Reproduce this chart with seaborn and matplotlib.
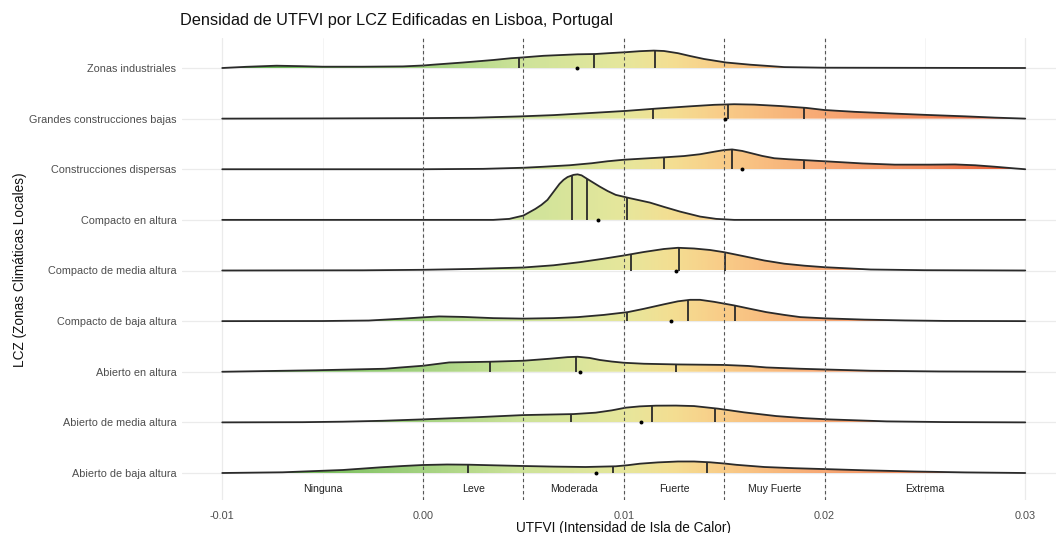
import numpy as np
import matplotlib
matplotlib.use("Agg")
import matplotlib.pyplot as plt
import seaborn as sns
from matplotlib.colors import LinearSegmentedColormap
from matplotlib.patches import Polygon

sns.set_theme(style="whitegrid")
plt.rcParams["font.family"] = ["Liberation Sans", "DejaVu Sans"]

# LCZ categories, bottom to top
lcz = [
    "Abierto de baja altura",
    "Abierto de media altura",
    "Abierto en altura",
    "Compacto de baja altura",
    "Compacto de media altura",
    "Compacto en altura",
    "Construcciones dispersas",
    "Grandes construcciones bajas",
    "Zonas industriales",
]

# Density profiles (UTFVI value, relative density) for each LCZ
ab_baja_x = [-0.010, -0.007, -0.004, -0.0021, -0.001, 0.0, 0.0012, 0.0023, 0.0035, 0.005, 0.0065,
             0.0081, 0.0096, 0.0102, 0.0108, 0.0117, 0.0127, 0.0135, 0.0143, 0.015, 0.0156, 0.017,
             0.0185, 0.0202, 0.022, 0.0245, 0.027, 0.030]
ab_baja_d = [0.0, 0.7, 3.0, 5.7, 7.0, 8.0, 8.5, 8.3, 7.7, 7.0, 6.4, 6.0, 6.7, 7.8, 9.3, 10.6, 11.5,
             11.5, 10.7, 9.5, 8.2, 6.0, 4.8, 3.8, 2.7, 1.5, 0.6, 0.0]

ab_media_x = [-0.010, -0.006, -0.004, -0.002, 0.0, 0.0025, 0.005, 0.0075, 0.0086, 0.0094, 0.0101,
              0.0108, 0.0116, 0.0126, 0.0135, 0.0147, 0.016, 0.0176, 0.019, 0.0202, 0.0231, 0.026, 0.030]
ab_media_d = [0.0, 0.2, 0.7, 1.6, 3.0, 5.0, 7.3, 8.3, 9.7, 12.0, 14.7, 16.0, 16.7, 16.8, 16.3, 13.7,
              10.0, 6.3, 4.2, 3.0, 1.0, 0.3, 0.0]

ab_altura_x = [-0.010, -0.0053, -0.0019, -0.0011, 0.0, 0.0013, 0.0033, 0.005, 0.0063, 0.0072, 0.0077,
               0.0083, 0.0088, 0.0094, 0.010, 0.011, 0.0127, 0.015, 0.0162, 0.0171, 0.0188, 0.020,
               0.0223, 0.0257, 0.030]
ab_altura_d = [0.0, 1.5, 3.0, 4.3, 6.0, 9.3, 10.0, 11.0, 13.0, 14.6, 15.0, 13.8, 11.8, 10.2, 9.0, 8.0,
               7.3, 6.8, 5.8, 4.3, 3.0, 2.3, 1.0, 0.3, 0.0]

co_baja_x = [-0.010, -0.005, -0.0027, -0.001, 0.0, 0.0008, 0.002, 0.0035, 0.005, 0.0065, 0.0077, 0.009,
             0.0102, 0.011, 0.012, 0.0127, 0.0133, 0.0138, 0.0145, 0.0155, 0.0163, 0.0171, 0.018,
             0.0188, 0.020, 0.022, 0.024, 0.026, 0.030]
co_baja_d = [0.0, 0.1, 0.6, 2.5, 3.8, 4.7, 4.2, 3.0, 2.5, 3.0, 4.0, 6.2, 9.0, 12.3, 16.8, 19.8, 21.3,
             21.3, 19.3, 15.7, 12.3, 9.0, 6.2, 4.0, 2.8, 1.5, 0.7, 0.2, 0.0]

co_media_x = [-0.010, -0.003, 0.0, 0.0025, 0.005, 0.0065, 0.0078, 0.009, 0.010, 0.011, 0.012, 0.0127,
              0.0135, 0.0143, 0.015, 0.016, 0.017, 0.018, 0.019, 0.020, 0.0223, 0.025, 0.030]
co_media_d = [0.0, 0.2, 0.7, 1.6, 3.0, 5.2, 8.3, 11.8, 15.0, 18.5, 21.5, 22.7, 22.0, 20.5, 18.3, 14.2,
              10.0, 6.8, 4.8, 3.3, 1.0, 0.3, 0.0]

co_altura_x = [-0.010, 0.0035, 0.0043, 0.005, 0.0056, 0.0059, 0.0062, 0.0065, 0.0068, 0.0070, 0.0072,
               0.0075, 0.0077, 0.0079, 0.0082, 0.0085, 0.0088, 0.0092, 0.0096, 0.0103, 0.0113, 0.0120,
               0.0128, 0.0138, 0.0146, 0.0155, 0.030]
co_altura_d = [0.0, 0.0, 1.0, 4.3, 11.0, 15.0, 20.0, 28.0, 36.0, 40.0, 42.8, 45.0, 45.5, 44.5, 40.7,
               37.0, 33.3, 28.8, 25.0, 21.7, 17.3, 13.0, 8.3, 3.3, 1.0, 0.0, 0.0]

dispersas_x = [-0.010, 0.0, 0.003, 0.005, 0.006, 0.0073, 0.0084, 0.0092, 0.010, 0.011, 0.0121, 0.013,
               0.0138, 0.0145, 0.0150, 0.0154, 0.0159, 0.0164, 0.0169, 0.0175, 0.0182, 0.0191, 0.020,
               0.0219, 0.0235, 0.0252, 0.0265, 0.0275, 0.0285, 0.0295, 0.030]
dispersas_d = [0.0, 0.0, 0.4, 1.5, 2.5, 4.0, 6.0, 8.0, 9.5, 10.7, 12.0, 13.2, 15.0, 17.5, 19.2, 19.8,
               18.3, 15.8, 13.3, 11.0, 10.0, 9.0, 8.0, 5.8, 4.6, 4.6, 4.8, 4.0, 2.5, 0.8, 0.0]

grandes_x = [-0.010, -0.005, 0.0, 0.0025, 0.0048, 0.0065, 0.0085, 0.0101, 0.0116, 0.0133, 0.0145,
             0.0155, 0.0165, 0.0178, 0.0191, 0.020, 0.0215, 0.0235, 0.0251, 0.027, 0.0285, 0.030]
grandes_d = [0.0, 0.2, 0.5, 0.9, 2.2, 3.5, 5.8, 7.7, 10.0, 12.3, 13.8, 14.4, 14.0, 12.6, 10.7, 8.6,
             6.8, 5.0, 3.7, 2.3, 1.0, 0.0]

industriales_x = [-0.010, -0.0088, -0.0073, -0.006, -0.005, -0.003, -0.001, 0.0, 0.0005, 0.002, 0.0035,
                  0.0044, 0.0048, 0.006, 0.0077, 0.0086, 0.0094, 0.0101, 0.0108, 0.0115, 0.012, 0.0127,
                  0.0133, 0.014, 0.0151, 0.0163, 0.018, 0.020, 0.030]
industriales_d = [0.0, 1.2, 2.3, 1.8, 1.3, 1.3, 1.6, 2.5, 3.3, 5.5, 8.0, 9.8, 10.3, 12.2, 13.7, 14.0,
                  15.0, 15.8, 16.8, 17.4, 17.0, 14.8, 12.0, 9.0, 5.5, 3.3, 0.9, 0.3, 0.0]

profiles_x = [ab_baja_x, ab_media_x, ab_altura_x, co_baja_x, co_media_x, co_altura_x,
              dispersas_x, grandes_x, industriales_x]
profiles_d = [ab_baja_d, ab_media_d, ab_altura_d, co_baja_d, co_media_d, co_altura_d,
              dispersas_d, grandes_d, industriales_d]

# Quartiles (25%, 50%, 75%) and mean UTFVI per LCZ
q25 = [0.00224, 0.00737, 0.00334, 0.01016, 0.01036, 0.00742, 0.01200, 0.01146, 0.00478]
q50 = [0.00946, 0.01141, 0.00762, 0.01320, 0.01275, 0.00817, 0.01539, 0.01519, 0.00852]
q75 = [0.01415, 0.01455, 0.01260, 0.01554, 0.01504, 0.01016, 0.01898, 0.01898, 0.01156]
means = [0.00862, 0.01086, 0.00782, 0.01235, 0.01260, 0.00872, 0.01589, 0.01504, 0.00767]

# UTFVI classes
class_breaks = [0.0, 0.005, 0.010, 0.015, 0.020]
class_labels = ["Ninguna", "Leve", "Moderada", "Fuerte", "Muy Fuerte", "Extrema"]
class_pos = [-0.005, 0.0025, 0.0075, 0.0125, 0.0175, 0.025]

xticks = [-0.01, 0.0, 0.01, 0.02, 0.03]
xtick_labels = ["-0.01", "0.00", "0.01", "0.02", "0.03"]

RIDGE_SCALE = 1 / 50.6
X_MIN, X_MAX = -0.01, 0.03

cmap = LinearSegmentedColormap.from_list("utfvi", [
    (0.0, "#58ad48"), (0.125, "#7cc060"), (0.25, "#a4d281"), (0.375, "#cee39a"),
    (0.5, "#e6e79c"), (0.5625, "#f4de92"), (0.625, "#f9cc88"), (0.75, "#f7a874"),
    (0.875, "#f28a5c"), (1.0, "#e9562f"),
])

W, H = 1056, 533
fig = plt.figure(figsize=(W / 100, H / 100), dpi=100)
ax = fig.add_axes([182 / W, 33 / H, 874 / W, 462 / H])

xlim = ((182 - 423) / 20075, (1056 - 423) / 20075)
ylim = (1 - 27 / 50.625, 1 + 435 / 50.625)

grad = np.linspace(0, 1, 600).reshape(1, -1)
line_col = "#2a2a2a"

# draw from the top row down so lower ridges sit in front
for i in range(len(lcz) - 1, -1, -1):
    base = i + 1
    xs = np.asarray(profiles_x[i])
    hs = np.asarray(profiles_d[i]) * RIDGE_SCALE
    ys = base + hs
    z = 2 + (len(lcz) - i) * 0.1
    verts = [(xs[0], base)] + list(zip(xs, ys)) + [(xs[-1], base)]
    poly = Polygon(verts, closed=True, facecolor="none", edgecolor="none")
    ax.add_patch(poly)
    im = ax.imshow(grad, extent=[X_MIN, X_MAX, base, ys.max() + 0.01], aspect="auto",
                   cmap=cmap, origin="lower", zorder=z, interpolation="bilinear")
    im.set_clip_path(poly)
    qs = [q25[i], q50[i], q75[i]]
    ax.vlines(qs, base, base + np.interp(qs, xs, hs), color=line_col, lw=1.3, zorder=z + 0.02)
    sns.lineplot(x=xs, y=ys, ax=ax, color=line_col, lw=1.3, estimator=None, sort=False,
                 zorder=z + 0.03)

sns.scatterplot(x=means, y=np.arange(1, len(lcz) + 1), ax=ax, color="black", s=8,
                linewidth=0, zorder=6)

for b in class_breaks:
    ax.axvline(b, color="#555555", lw=0.8, ls=(0, (3, 2.5)), zorder=5)

for lab, xp in zip(class_labels, class_pos):
    ax.text(xp, 1 - 16 / 50.625, lab, ha="center", va="center", fontsize=7.6, color="#222222")

ax.set_xlim(*xlim)
ax.set_ylim(*ylim)
ax.set_xticks(xticks)
ax.set_xticklabels(xtick_labels)
ax.set_xticks([-0.005, 0.005, 0.015, 0.025], minor=True)
ax.set_yticks(np.arange(1, len(lcz) + 1))
ax.set_yticklabels(lcz)
ax.grid(which="major", color="#ebebeb", lw=0.9)
ax.grid(which="minor", axis="x", color="#f3f3f3", lw=0.6)
ax.set_axisbelow(True)
for s in ax.spines.values():
    s.set_visible(False)
ax.tick_params(axis="both", which="both", length=0, labelsize=7.8, labelcolor="#4d4d4d")
ax.tick_params(axis="x", pad=8)
ax.tick_params(axis="y", pad=4)
ax.set_xlabel("")
ax.set_ylabel("")

fig.text(180 / W, 1 - 20 / H, "Densidad de UTFVI por LCZ Edificadas en Lisboa, Portugal",
         ha="left", va="center", fontsize=11.8, color="#111111")
fig.text(20 / W, 1 - 270 / H, "LCZ (Zonas Climáticas Locales)", rotation=90,
         ha="center", va="center", fontsize=9.8, color="#111111")
fig.text(624 / W, 1 - 528 / H, "UTFVI (Intensidad de Isla de Calor)",
         ha="center", va="center", fontsize=9.8, color="#111111")

fig.savefig("out.png", dpi=100, facecolor="white")
